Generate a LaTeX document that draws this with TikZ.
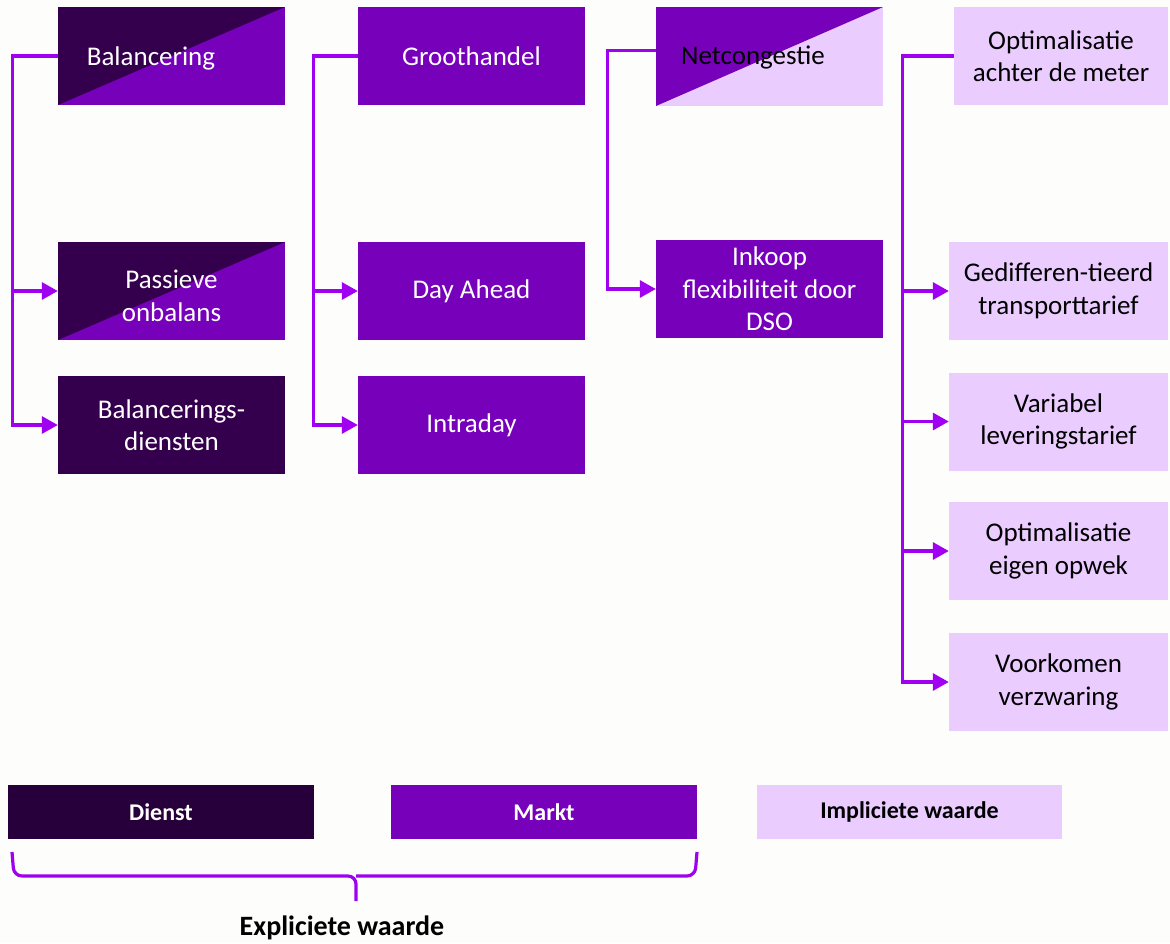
\documentclass[tikz,border=0pt]{standalone}
\usepackage{fontspec}
\setmainfont{Carlito}
\usetikzlibrary{arrows.meta,calc}
\definecolor{bgc}{HTML}{FDFDFC}
\definecolor{dark}{HTML}{34004E}
\definecolor{dienstc}{HTML}{27003B}
\definecolor{markt}{HTML}{7700BB}
\definecolor{light}{HTML}{EBCCFF}
\definecolor{conn}{HTML}{A000F0}
\tikzset{
  box/.style={rectangle, minimum width=227pt, minimum height=98pt, inner sep=0pt, align=center,
    font=\fontsize{27}{32.5}\selectfont},
  dbox/.style={box, fill=dark, text=white},
  mbox/.style={box, fill=markt, text=white},
  lbox/.style={box, fill=light, text=black, minimum width=219pt},
  splitdm/.style={box, fill=markt, path picture={\fill[dark] (path picture bounding box.north west) -- (path picture bounding box.north east) -- (path picture bounding box.south west) -- cycle;}},
  splitml/.style={box, fill=light, path picture={\fill[markt] (path picture bounding box.north west) -- (path picture bounding box.north east) -- (path picture bounding box.south west) -- cycle;}},
  txtw/.style={font=\fontsize{27}{32.5}\selectfont, text=white, inner sep=0pt, align=center},
  txtb/.style={font=\fontsize{27}{32.5}\selectfont, text=black, inner sep=0pt, align=center},
  leg/.style={rectangle, minimum width=306pt, minimum height=54pt, inner sep=0pt, font=\fontsize{24}{28}\selectfont\bfseries},
  line/.style={draw=conn, line width=3.2pt},
  arr/.style={line, -{Triangle[length=16pt,width=17pt]}},
}
\begin{document}
\begin{tikzpicture}[x=1pt,y=-1pt]
\fill[bgc] (0,0) rectangle (1170,943);
\useasboundingbox (0,0) rectangle (1170,943);

% column 1
\node[splitdm] (bal) at (171.5,56) {};
\node[txtw] (balt) at (151,58) {Balancering};
\node[splitdm] (pas) at (171.5,291) {};
\node[txtw] (past) at (171.5,296) {Passieve\\onbalans};
\node[dbox] (bdi) at (171.5,425) {Balancerings-\\diensten};

% column 2
\node[mbox] (grh) at (471.5,56) {Groothandel};
\node[mbox] (da) at (471.5,291) {Day Ahead};
\node[mbox] (intra) at (471.5,425) {Intraday};

% column 3
\node[splitml, minimum height=99pt] (net) at (769.5,56.5) {};
\node[txtb] (nett) at (753,57) {Netcongestie};
\node[mbox] (ink) at (769.5,289) {Inkoop\\flexibiliteit door\\DSO};

% column 4
\node[lbox, minimum width=214pt] (opt) at (1061,56) {Optimalisatie\\achter de meter};
\node[lbox] (ged) at (1058.5,291) {Gedifferen-tieerd\\transporttarief};
\node[lbox] (var) at (1058.5,421.5) {Variabel\\leveringstarief};
\node[lbox] (eig) at (1058.5,551) {Optimalisatie\\eigen opwek};
\node[lbox] (voo) at (1058.5,682) {Voorkomen\\verzwaring};

% connectors
\draw[arr] (bal.west) -- ++(-45,0) |- (pas.west);
\draw[arr] (bal.west) -- ++(-45,0) |- (bdi.west);
\draw[arr] (grh.west) -- ++(-44,0) |- (da.west);
\draw[arr] (grh.west) -- ++(-44,0) |- (intra.west);
\draw[arr] ([yshift=6pt]net.west) -- ++(-48,0) |- (ink.west);
\draw[arr] (opt.west) -- ++(-51,0) |- (ged.west);
\draw[arr] (opt.west) -- ++(-51,0) |- (var.west);
\draw[arr] (opt.west) -- ++(-51,0) |- (eig.west);
\draw[arr] (opt.west) -- ++(-51,0) |- (voo.west);

% legend
\node[leg, fill=dienstc, text=white] (ld) at (161,812) {Dienst};
\node[leg, fill=markt, text=white] (lm) at (544,812) {Markt};
\node[leg, fill=light, text=black, minimum width=305pt] (li) at (909.5,812) {Impliciete waarde};

% brace
\coordinate (bl) at (12,852);
\coordinate (br) at (697,852);
\coordinate (bt) at (356,901);
\draw[line, rounded corners=8pt] (bl) -- (14,876) -- (356,876) -- (bt);
\draw[line, rounded corners=8pt] (br) -- (695,876) -- (356,876);
\node[font=\fontsize{28}{32}\selectfont\bfseries, inner sep=0pt] (expl) at (342,928) {Expliciete waarde};
\end{tikzpicture}
\end{document}
